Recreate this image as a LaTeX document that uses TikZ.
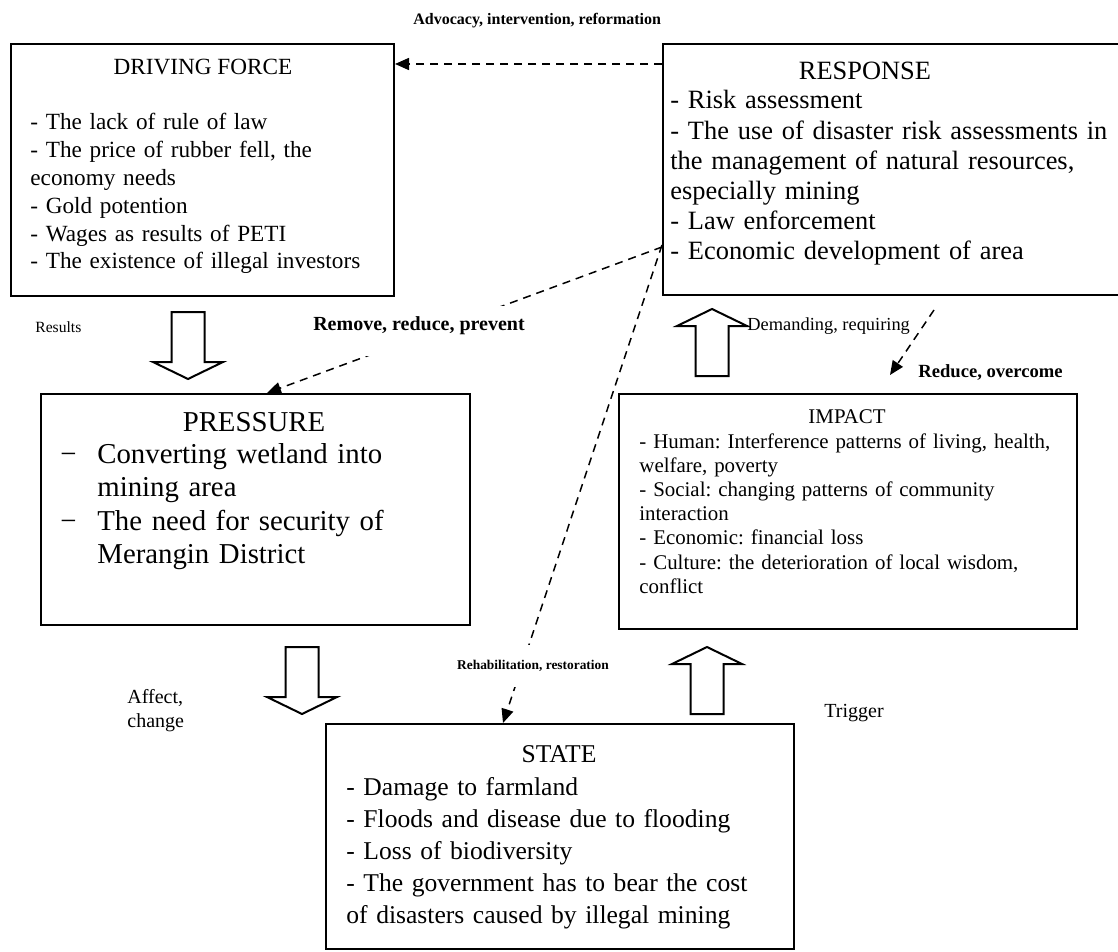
\documentclass[tikz,border=0pt]{standalone}
\usepackage{fontspec}
\setmainfont{Liberation Serif}
\frenchspacing
\usetikzlibrary{arrows.meta,calc,positioning}

\tikzset{
  box/.style={draw, line width=1pt, fill=white, inner sep=0pt, anchor=north west},
  boxtitle/.style={anchor=base, inner sep=0pt},
  boxtext/.style={anchor=base west, inner sep=0pt, align=left},
  linklabel/.style={inner sep=0pt},
  dashlink/.style={line width=0.75pt, dash pattern=on 4pt off 3pt, -{Triangle[length=7pt,width=6pt]}},
  blockarrow/.style={draw, line width=1pt, fill=white, line join=miter}
}

% hollow block arrows: #1 = centre x, #2 = tail y
\newcommand{\blockdown}[2]{%
  \draw[blockarrow] (#1-16.5,#2) -- ++(33,0) -- ++(0,50) -- ++(18.5,0)
    -- (#1,#2+67) -- (#1-35,#2+50) -- ++(18.5,0) -- cycle;}
\newcommand{\blockup}[2]{%
  \draw[blockarrow] (#1-16.5,#2) -- ++(33,0) -- ++(0,-50) -- ++(18.5,0)
    -- (#1,#2-67) -- (#1-35,#2-50) -- ++(18.5,0) -- cycle;}

\begin{document}
\begin{tikzpicture}[x=0.5pt,y=-0.5pt]
  \useasboundingbox (0,0) rectangle (1118,952);
  \clip (0,0) rectangle (1118,952);

  % DPSIR boxes
  \node[box, minimum width=191.5pt, minimum height=126pt] (drive) at (10,43) {};
  \node[box, minimum width=235pt, minimum height=125.5pt] (resp) at (662,43) {};
  \node[box, minimum width=214.5pt, minimum height=115.5pt] (pressure) at (40,393) {};
  \node[box, minimum width=229pt, minimum height=117.5pt] (impact) at (618,393) {};
  \node[box, minimum width=234pt, minimum height=112.5pt] (state) at (325,723) {};

  % Driving force
  \node[boxtitle, font=\fontsize{11.6}{14}\selectfont] (drivetitle) at ($(drive.north west)+(193,32)$) {DRIVING FORCE};
  \node[boxtext, text width=185pt, font=\fontsize{11.6}{13.9}\selectfont] (drivetext) at ($(drive.north west)+(20,87)$)
    {- The lack of rule of law\\- The price of rubber fell, the\\economy needs\\- Gold potention\\- Wages as results of PETI\\- The existence of illegal investors};

  % Response
  \node[boxtitle, font=\fontsize{13.2}{15}\selectfont] (resptitle) at ($(resp.north west)+(203,37)$) {RESPONSE};
  \node[boxtext, text width=225pt, font=\fontsize{13.2}{15.1}\selectfont] (resptext) at ($(resp.north west)+(8,66)$)
    {- Risk assessment\\- The use of disaster risk assessments in\\the management of natural resources,\\especially mining\\- Law enforcement\\- Economic development of area};

  % Pressure
  \node[boxtitle, font=\fontsize{14.4}{16}\selectfont] (prestitle) at ($(pressure.north west)+(214,38)$) {PRESSURE};
  \node[boxtext, text width=200pt, font=\fontsize{14.4}{16.8}\selectfont] (prestext) at ($(pressure.north west)+(20,70)$)
    {\makebox[18.5pt][l]{−}Converting wetland into\\\hspace*{18.5pt}mining area\\\makebox[18.5pt][l]{−}The need for security of\\\hspace*{18.5pt}Merangin District};

  % Impact
  \node[boxtitle, font=\fontsize{10.45}{12}\selectfont] (imptitle) at ($(impact.north west)+(229,30)$) {IMPACT};
  \node[boxtext, text width=225pt, font=\fontsize{10.45}{12.1}\selectfont] (imptext) at ($(impact.north west)+(21,55)$)
    {- Human: Interference patterns of living, health,\\welfare, poverty\\- Social: changing patterns of community\\interaction\\- Economic: financial loss\\- Culture: the deterioration of local wisdom,\\conflict};

  % State
  \node[boxtitle, font=\fontsize{12.8}{15}\selectfont] (statetitle) at ($(state.north west)+(234,39)$) {STATE};
  \node[boxtext, text width=225pt, font=\fontsize{12.8}{16}\selectfont] (statetext) at ($(state.north west)+(21,72)$)
    {- Damage to farmland\\- Floods and disease due to flooding\\- Loss of biodiversity\\- The government has to bear the cost\\of disasters caused by illegal mining};

  % causal block arrows
  \blockdown{188}{312}
  \blockdown{302}{647}
  \blockup{712}{376}
  \blockup{707}{714}

  % response links
  \coordinate (redstart) at (934,310);
  \coordinate (redend) at (890,375);
  \draw[dashlink] ($(resp.north west)+(0,21)$) -- ($(drive.north east)+(0,21)$);
  \draw[dashlink] ($(resp.north west)+(0,204)$) -- ($(pressure.north west)+(227,0)$);
  \draw[dashlink] ($(resp.north west)+(0,202)$) -- ($(state.north west)+(178,0)$);
  \draw[dashlink] (redstart) -- (redend);

  % labels
  \node[linklabel, anchor=base west, font=\fontsize{8}{9}\selectfont\bfseries] (advlabel) at (413,25) {Advocacy, intervention, reformation};
  \node[linklabel, anchor=base west, font=\fontsize{7.8}{9}\selectfont] (reslabel) at (35,332) {Results};
  \node[linklabel, anchor=base, fill=white, text height=12pt, text depth=13pt, font=\fontsize{10}{12}\selectfont\bfseries] (remlabel) at (419,330) {Remove, reduce, prevent};
  \node[linklabel, anchor=base west, font=\fontsize{9.2}{11}\selectfont] (demlabel) at (747,330) {Demanding, requiring};
  \node[linklabel, anchor=base west, font=\fontsize{9.3}{11}\selectfont\bfseries] (redlabel) at (918,377) {Reduce, overcome};
  \node[linklabel, fill=white, minimum height=21pt, font=\fontsize{6.7}{8}\selectfont\bfseries] (rehlabel) at (533,666) {Rehabilitation, restoration};
  \node[linklabel, anchor=base west, text width=40pt, align=left, font=\fontsize{10}{12}\selectfont] (afflabel) at (127,703) {Affect,\\change};
  \node[linklabel, anchor=base west, font=\fontsize{10}{12}\selectfont] (triglabel) at (824,717) {Trigger};
\end{tikzpicture}
\end{document}
